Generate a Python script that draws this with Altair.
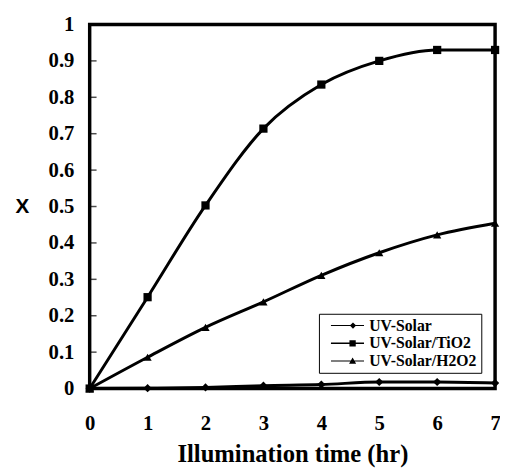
import altair as alt
import pandas as pd

hours = [0, 1, 2, 3, 4, 5, 6, 7]
uv_solar = [0.0, 0.001, 0.003, 0.008, 0.011, 0.018, 0.018, 0.015]
uv_tio2 = [0.0, 0.251, 0.503, 0.714, 0.835, 0.90, 0.93, 0.93]
uv_h2o2 = [0.0, 0.086, 0.168, 0.238, 0.311, 0.373, 0.422, 0.454]
series_names = ["UV-Solar", "UV-Solar/TiO2", "UV-Solar/H2O2"]
y_ticks = [0.1, 0.2, 0.3, 0.4, 0.5, 0.6, 0.7, 0.8, 0.9]

rows = []
for name, vals in zip(series_names, [uv_solar, uv_tio2, uv_h2o2]):
    for h, v in zip(hours, vals):
        rows.append({"t": h, "x": v, "series": name, "marker": name})
df = pd.DataFrame(rows)
tick_df = pd.DataFrame({"x": y_ticks})

serif = "Liberation Serif"
xscale = alt.Scale(domain=[0, 7], nice=False)
yscale = alt.Scale(domain=[0, 1], nice=False)

xaxis = alt.Axis(title="Illumination time (hr)", values=hours, tickSize=0, format="d",
                 grid=False, domain=False, labelFont=serif, labelFontWeight="bold",
                 labelFontSize=21, labelPadding=25, labelColor="black",
                 labelOverlap=False,
                 titleFont=serif, titleFontWeight="bold", titleFontSize=25,
                 titlePadding=8, titleColor="black", labelFlush=False)
yaxis = alt.Axis(title="X", values=[0] + y_ticks + [1], tickSize=0, grid=False,
                 domain=False, labelFont=serif, labelFontWeight="bold",
                 labelFontSize=21, labelPadding=16, labelColor="black",
                 labelOverlap=False,
                 labelExpr="format(datum.value, '.1~f')", labelFlush=False,
                 titleFont="Liberation Sans", titleFontWeight="bold",
                 titleFontSize=21, titleAngle=0, titleAlign="center",
                 titleBaseline="middle", titleX=-69, titleY=185,
                 titleColor="black")

xenc = alt.X("t:Q", scale=xscale, axis=xaxis)
yenc = alt.Y("x:Q", scale=yscale, axis=yaxis)

lines = alt.Chart(df).mark_line(color="black", strokeWidth=3, interpolate="monotone").encode(
    x=xenc, y=yenc, detail="series:N")

legend_paths = [
    "M-4.2,-0.13L4.2,-0.13L4.2,0.13L-4.2,0.13ZM1.4,-0.8L2.2,0L1.4,0.8L0.6,0Z",
    "M-4.2,-0.18L4.2,-0.18L4.2,0.18L-4.2,0.18ZM0.5,-0.8L2.1,-0.8L2.1,0.8L0.5,0.8Z",
    "M-4.2,-0.15L4.2,-0.15L4.2,0.15L-4.2,0.15ZM1.3,-0.9L2.2,0.7L0.4,0.7Z",
]

legend_layer = alt.Chart(df).mark_point(filled=True, color="black", opacity=0, size=64).encode(
    x=xenc, y=yenc,
    shape=alt.Shape("series:N", sort=series_names,
                    scale=alt.Scale(domain=series_names, range=legend_paths),
                    legend=alt.Legend(title=None, orient="none", legendX=233, legendY=294,
                                      strokeColor="black", fillColor="white", padding=4,
                                      symbolSize=64, symbolOffset=17, labelOffset=14,
                                      symbolFillColor="black", symbolStrokeColor="black",
                                      symbolStrokeWidth=0, symbolOpacity=1, rowPadding=2,
                                      labelFont=serif, labelFontWeight="bold", labelFontSize=16,
                                      labelColor="black", labelLimit=300)))

points = alt.Chart(df).mark_point(filled=True, color="black", opacity=1, size=70).encode(
    x=xenc, y=yenc,
    shape=alt.Shape("marker:N",
                    scale=alt.Scale(domain=series_names, range=["diamond", "square", "triangle-up"]),
                    legend=None))

ticks = alt.Chart(tick_df).mark_tick(color="black", thickness=1.5, size=7, orient="horizontal").encode(
    y=yenc, x=alt.value(3.5))

chart = alt.layer(lines, legend_layer, points, ticks).resolve_scale(shape="independent").properties(
    width=412, height=370,
    autosize=alt.AutoSizeParams(type="none"),
    padding={"left": 83, "top": 13, "right": 5, "bottom": 78},
).configure(background="white").configure_view(stroke="black", strokeWidth=3.5)

chart.save("out.html", embed_options={"renderer": "svg", "actions": False})
